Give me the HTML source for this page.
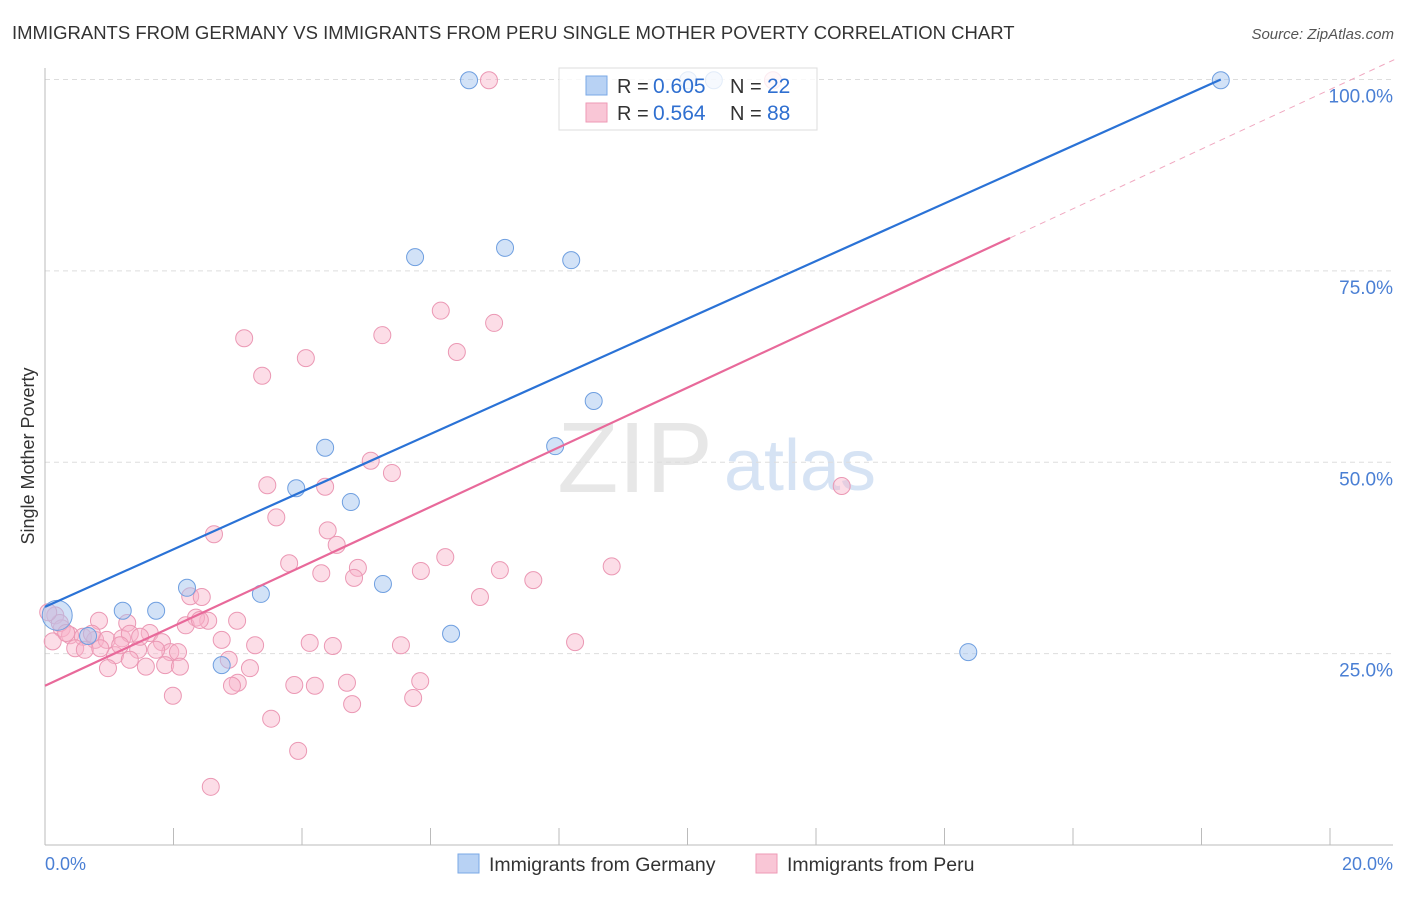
<!DOCTYPE html>
<html><head><meta charset="utf-8"><style>
body{margin:0;background:#fff;font-family:"Liberation Sans",sans-serif}
svg text{font-family:"Liberation Sans",sans-serif}
</style></head><body>
<svg id="chart" width="1406" height="892">
<text x="12" y="39" font-size="18.5" fill="#333">IMMIGRANTS FROM GERMANY VS IMMIGRANTS FROM PERU SINGLE MOTHER POVERTY CORRELATION CHART</text>
<text x="1394" y="39" font-size="15" fill="#555" text-anchor="end" font-style="italic">Source: ZipAtlas.com</text>
<text x="34" y="456" font-size="18" fill="#333" text-anchor="middle" transform="rotate(-90 34 456)">Single Mother Poverty</text>
<g><text x="635" y="492" font-size="100" fill="#ddd" font-family="Liberation Serif" text-anchor="middle" opacity="0.7">ZIP</text><text x="800" y="490" font-size="72" fill="#c6d8f0" text-anchor="middle" opacity="0.7">atlas</text></g>
<g id="grid"></g><g id="axes"></g>
<g id="pts"></g><g id="lines"></g>
<g>
<rect x="559" y="68" width="258" height="62" fill="#fff" fill-opacity="0.8" stroke="#ddd"/>
<rect x="586" y="76" width="21" height="19" fill="#b8d2f4" stroke="#7aa8e6"/>
<rect x="586" y="103" width="21" height="19" fill="#f9c6d6" stroke="#ee9ab6"/>
<text x="617" y="93" font-size="20" fill="#333">R =</text><text x="653" y="93" font-size="21" fill="#2f6fd0">0.605</text>
<text x="730" y="93" font-size="20" fill="#333">N =</text><text x="767" y="93" font-size="21" fill="#2f6fd0">22</text>
<text x="617" y="120" font-size="20" fill="#333">R =</text><text x="653" y="120" font-size="21" fill="#2f6fd0">0.564</text>
<text x="730" y="120" font-size="20" fill="#333">N =</text><text x="767" y="120" font-size="21" fill="#2f6fd0">88</text>
</g>
<g>
<rect x="458" y="854" width="21" height="19" fill="#b8d2f4" stroke="#7aa8e6"/>
<text x="489" y="871" font-size="19.5" fill="#333">Immigrants from Germany</text>
<rect x="756" y="854" width="21" height="19" fill="#f9c6d6" stroke="#ee9ab6"/>
<text x="787" y="871" font-size="19.5" fill="#333">Immigrants from Peru</text>
</g>
<text x="45" y="870" font-size="18" fill="#4a7fd4">0.0%</text>
<text x="1393" y="870" font-size="18" fill="#4a7fd4" text-anchor="end">20.0%</text>
</svg>
<script>
const yTicks=[25,50,75,100];
const yTickLabels=["25.0%","50.0%","75.0%","100.0%"];
const blueX=[0.19,6.60,10.01,10.41,18.30,5.76,7.16,8.19,8.54,4.36,7.94,3.91,4.76,5.26,2.21,3.36,1.21,1.73,0.67,2.75,6.32,14.37];
const blueY=[30.0,99.9,99.9,99.9,99.9,76.8,78.0,76.4,58.0,51.9,52.1,46.6,44.8,34.1,33.6,32.8,30.6,30.6,27.3,23.5,27.6,25.2];
const pinkX=[6.91,11.33,3.10,3.38,4.06,5.25,6.16,6.41,6.99,12.40,5.07,5.40,3.46,4.36,3.60,2.63,4.40,4.54,3.80,4.30,4.87,4.81,5.85,6.23,7.08,7.60,8.82,6.77,2.26,2.44,2.99,2.54,2.35,2.19,1.28,0.84,0.16,0.26,0.39,0.59,0.78,0.96,1.20,1.32,1.63,1.82,0.47,0.62,1.09,1.45,1.95,2.07,2.75,3.27,4.12,4.48,5.54,8.25,0.98,1.57,1.87,2.10,2.86,3.19,3.88,4.20,4.70,5.84,3.00,1.99,4.78,5.73,3.52,3.94,2.58,0.12,0.23,0.33,1.48,1.73,0.86,1.17,2.91,2.41,0.73,0.05,1.32];
const pinkY=[99.9,99.9,66.2,61.3,63.6,66.6,69.8,64.4,68.2,46.9,50.2,48.6,47.0,46.8,42.8,40.6,41.1,39.2,36.8,35.5,36.2,34.9,35.8,37.6,35.9,34.6,36.4,32.4,32.5,32.4,29.3,29.3,29.7,28.7,29.0,29.3,30.0,28.3,27.4,27.2,26.8,26.8,27.0,27.6,27.7,26.5,25.7,25.5,24.8,25.5,25.2,25.2,26.8,26.1,26.4,26.0,26.1,26.5,23.1,23.3,23.5,23.3,24.2,23.1,20.9,20.8,21.2,21.4,21.2,19.5,18.4,19.2,16.5,12.3,7.6,26.6,29.0,27.7,27.2,25.5,25.7,26.1,20.8,29.4,27.6,30.4,24.2];
const blueLine=[31.1,100];const blueLineX=[0,18.3];
const pinkLine=[20.8,79.3];const pinkLineX=[0,15.02];
const NS="http://www.w3.org/2000/svg";
const sx=v=>45+v*64.25, sy=v=>845-v*7.655;
function mk(t,a,p){const e=document.createElementNS(NS,t);for(const k in a)e.setAttribute(k,a[k]);p.appendChild(e);return e;}
const grid=document.getElementById('grid'),axes=document.getElementById('axes'),pts=document.getElementById('pts'),lines=document.getElementById('lines');
yTicks.forEach((t,i)=>{
 const l=mk('line',{x1:45,x2:1393,y1:sy(t),y2:sy(t),stroke:'#ddd','stroke-dasharray':'5,4'},grid);
 
 
 const tx=mk('text',{x:1393,y:sy(t)+23,'font-size':19,fill:'#4a7fd4','text-anchor':'end'},grid);
 tx.textContent=yTickLabels[i];
 
 
});
const xa=mk('line',{x1:45,x2:1393,y1:845,y2:845,stroke:'#bbb'},axes);


const ya=mk('line',{x1:45,x2:45,y1:68,y2:845,stroke:'#bbb'},axes);


for(let k=0;k<=10;k++){const t=mk('line',{x1:sx(k*2),x2:sx(k*2),y1:828,y2:845,stroke:'#bbb'},axes);
 
 }
pinkX.forEach((x,i)=>{const c=mk('circle',{cx:sx(x),cy:sy(pinkY[i]),r:8.5,fill:'rgba(248,180,202,0.45)',stroke:'#eb98b4','stroke-width':1},pts);
 
 });
blueX.forEach((x,i)=>{const c=mk('circle',{cx:sx(x),cy:sy(blueY[i]),r:i==0?15:8.5,fill:'rgba(165,198,240,0.5)',stroke:'#6f9fe0','stroke-width':1},pts);
 
 });
const slope=(pinkLine[1]-pinkLine[0])/(pinkLineX[1]-pinkLineX[0]);
const pd=mk('line',{x1:sx(pinkLineX[1]),y1:sy(pinkLine[1]),x2:sx(21),y2:sy(pinkLine[0]+slope*21),stroke:'#f0a8c0','stroke-dasharray':'6,5'},lines);


const pl=mk('line',{x1:sx(pinkLineX[0]),y1:sy(pinkLine[0]),x2:sx(pinkLineX[1]),y2:sy(pinkLine[1]),stroke:'#e8699a','stroke-width':2.2},lines);


const bl=mk('line',{x1:sx(blueLineX[0]),y1:sy(blueLine[0]),x2:sx(blueLineX[1]),y2:sy(blueLine[1]),stroke:'#2a72d6','stroke-width':2.2},lines);


</script>
</body></html>
